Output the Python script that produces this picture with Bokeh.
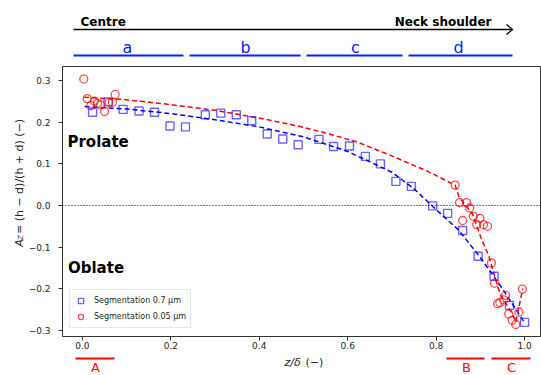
import numpy as np
from bokeh.plotting import figure
from bokeh.layouts import column, row
from bokeh.models import Range1d, Label, Span, Legend, LegendItem, FixedTicker
from bokeh.embed import file_html
from bokeh.resources import INLINE

# ---------------- data ----------------
blue_x = [0.023, 0.058, 0.092, 0.128, 0.163, 0.198, 0.233, 0.278, 0.313, 0.348, 0.383, 0.418, 0.453, 0.488,
          0.535, 0.568, 0.604, 0.640, 0.674, 0.709, 0.744, 0.792, 0.826, 0.860, 0.895, 0.931, 0.966, 1.000]
blue_y = [0.224, 0.249, 0.231, 0.227, 0.224, 0.191, 0.189, 0.218, 0.222, 0.218, 0.204, 0.172, 0.160, 0.146,
          0.159, 0.142, 0.143, 0.118, 0.100, 0.058, 0.046, -0.001, -0.019, -0.060, -0.122, -0.170, -0.240, -0.281]

red_x = [0.003, 0.011, 0.019, 0.027, 0.034, 0.041, 0.050, 0.060, 0.068, 0.074,
         0.843, 0.853, 0.860, 0.869, 0.876, 0.884, 0.892, 0.899, 0.907, 0.916,
         0.925, 0.932, 0.939, 0.944, 0.953, 0.957, 0.964, 0.972, 0.980, 0.987, 0.995]
red_y = [0.304, 0.257, 0.240, 0.251, 0.245, 0.242, 0.226, 0.248, 0.248, 0.267,
         0.049, 0.007, -0.036, 0.007, -0.006, -0.026, -0.046, -0.031, -0.046, -0.050,
         -0.138, -0.187, -0.236, -0.233, -0.227, -0.216, -0.261, -0.276, -0.286, -0.256, -0.201]

blue_fit_x = [0.005, 0.1, 0.2, 0.3, 0.4, 0.5, 0.6, 0.7, 0.75, 0.8, 0.85, 0.9, 0.95, 1.0]
blue_fit_y = [0.238, 0.232, 0.221, 0.206, 0.189, 0.165, 0.130, 0.080, 0.040, -0.010, -0.058, -0.125, -0.200, -0.282]

red_fit_x = [0.004, 0.09, 0.18, 0.3, 0.405, 0.488, 0.548, 0.623, 0.698, 0.781, 0.843, 0.852, 0.882, 0.901,
             0.92, 0.935, 0.946, 0.968, 0.98, 0.996]
red_fit_y = [0.260, 0.255, 0.245, 0.229, 0.209, 0.191, 0.175, 0.152, 0.120, 0.082, 0.049, 0.020, -0.020,
             -0.076, -0.124, -0.180, -0.216, -0.252, -0.280, -0.200]

x_ticks = [0.0, 0.2, 0.4, 0.6, 0.8, 1.0]
x_tick_labels = ["0.0", "0.2", "0.4", "0.6", "0.8", "1.0"]
y_ticks = [-0.3, -0.2, -0.1, 0.0, 0.1, 0.2, 0.3]
y_tick_labels = ["\u22120.3", "\u22120.2", "\u22120.1", "0.0", "0.1", "0.2", "0.3"]

region_labels = ["a", "b", "c", "d"]
zone_labels = ["A", "B", "C"]
series_names = ["Segmentation 0.7 \u03bcm", "Segmentation 0.05 \u03bcm"]

# ---------------- geometry (page pixels) ----------------
TOTAL_W = 541
TOP_H = 66          # band above the plot frame
MID_H = 286         # plot frame + tick labels
BOT_H = 23          # band below
LEFT_W = 25         # band holding the y title

def dx(px):
    return (px - 80.0) / 444.0

def dy(py):
    return (205.0 - py) / 416.0

def band(width, height, x0, y0):
    # band figure whose data coordinates are page pixels (x right, y = -page_y)
    f = figure(width=width, height=height, output_backend="svg", toolbar_location=None,
               x_range=Range1d(x0, x0 + width), y_range=Range1d(-(y0 + height), -y0),
               x_axis_type=None, y_axis_type=None,
               min_border_left=0, min_border_right=0, min_border_top=0, min_border_bottom=0)
    f.outline_line_color = None
    f.xgrid.visible = False
    f.ygrid.visible = False
    f.background_fill_color = "white"
    f.border_fill_color = "white"
    return f

def lab(fig, x, y, text, size, color="black", style="normal", align="left", angle=0.0):
    # (x, y) is the middle of the text line
    fig.add_layout(Label(x=x, y=y, text=text, text_font="DejaVu Sans", text_font_style=style,
                         text_font_size=size, text_color=color, text_align=align,
                         text_baseline="middle", angle=angle))

# ---------------- main plot ----------------
p = figure(width=TOTAL_W - LEFT_W, height=MID_H, output_backend="svg", toolbar_location=None,
           x_range=Range1d(dx(60), dx(541)), y_range=Range1d(dy(336), dy(66)),
           min_border_left=60 - LEFT_W, min_border_right=0, min_border_top=0, min_border_bottom=16)
p.background_fill_color = "white"
p.border_fill_color = "white"
p.outline_line_color = "#333333"
p.outline_line_width = 1
p.xgrid.visible = False
p.ygrid.visible = False

for ax in (p.xaxis[0], p.yaxis[0]):
    ax.axis_line_color = None
    ax.minor_tick_line_color = None
    ax.major_tick_in = 0
    ax.major_tick_out = 4
    ax.major_tick_line_color = "#333333"
    ax.major_label_text_font = "DejaVu Sans"
    ax.major_label_text_font_size = "9px"
    ax.major_label_text_color = "#262626"

p.xaxis.ticker = FixedTicker(ticks=x_ticks)
p.xaxis.major_label_overrides = {t: l for t, l in zip(x_ticks, x_tick_labels)}
p.xaxis.major_label_standoff = 1
p.yaxis.ticker = FixedTicker(ticks=y_ticks)
p.yaxis.major_label_overrides = {t: l for t, l in zip(y_ticks, y_tick_labels)}
p.yaxis.major_label_standoff = 8

p.add_layout(Span(location=0, dimension="width", line_color="black", line_width=1, line_dash="1 2"))

p.line(blue_fit_x, blue_fit_y, line_color="blue", line_width=1.5, line_dash="5 3")
p.line(red_fit_x, red_fit_y, line_color="red", line_width=1.5, line_dash="5 3")

rb = p.scatter(blue_x, blue_y, marker="square", size=8, fill_color=None,
               line_color="blue", line_alpha=0.6, line_width=1.4)
rr = p.scatter(red_x, red_y, marker="circle", size=8, fill_color=None,
               line_color="red", line_alpha=0.7, line_width=1.3)

leg = Legend(items=[LegendItem(label=series_names[0], renderers=[rb]),
                    LegendItem(label=series_names[1], renderers=[rr])],
             location=(7, 8), label_text_font="DejaVu Sans", label_text_font_size="8px",
             label_text_color="#262626", padding=4, spacing=3, glyph_height=13, glyph_width=13,
             label_standoff=7, margin=0, border_line_color="#d0d0d0", border_line_width=1,
             background_fill_alpha=0.9, label_height=13)
p.add_layout(leg)

lab(p, dx(65), dy(141.8), "Prolate", "15px", style="bold")
lab(p, dx(65.5), dy(267.8), "Oblate", "15px", style="bold")

# ---------------- top band: arrow and regions a-d ----------------
top = band(TOTAL_W, TOP_H, 0, 0)
top.line([73, 512], [-29, -29], line_color="black", line_width=1.3)
top.line([506, 512, 506], [-24, -29, -34], line_color="black", line_width=1.3)
lab(top, 80, -21.8, "Centre", "12px", style="bold")
lab(top, 491, -21.8, "Neck shoulder", "12px", style="bold", align="right")

blue_spans = [(73, 183), (189, 300), (306, 402), (408, 512)]
blue_centres = [127, 245, 355, 458]
top.segment([s[0] for s in blue_spans], [-55] * 4, [s[1] for s in blue_spans], [-55] * 4,
            line_color="#0022ff", line_width=2)
for cx, t in zip(blue_centres, region_labels):
    lab(top, cx, -46.5, t, "16px", color="#0022ff", align="center")

# ---------------- left band: y title ----------------
left = band(LEFT_W, MID_H, 0, TOP_H)
lab(left, 18.5, -257, "A", "11px", color="#262626", style="italic", angle=np.pi / 2)
lab(left, 20.2, -249.8, "Z", "7px", color="#262626", style="italic", angle=np.pi / 2)
lab(left, 18.5, -243.5, "= (h \u2212 d)/(h + d) (\u2212)", "11px", color="#262626", angle=np.pi / 2)

# ---------------- bottom band: x title and zones A-C ----------------
bot = band(TOTAL_W, BOT_H, 0, TOP_H + MID_H)
red_spans = [(75, 114), (446, 484), (491, 530)]
red_centres = [95, 466, 511]
bot.segment([s[0] for s in red_spans], [-358] * 3, [s[1] for s in red_spans], [-358] * 3,
            line_color="red", line_width=2)
for cx, t in zip(red_centres, zone_labels):
    lab(bot, cx, -366.5, t, "13px", color="red", align="center")
lab(bot, 284, -362.2, "z/\u03b4", "11px", color="#262626", style="italic")
lab(bot, 305, -362.2, "(\u2212)", "11px", color="#262626")

layout = column(top, row(left, p, spacing=0), bot, spacing=0)
open("out.html", "w").write(file_html(layout, INLINE))
